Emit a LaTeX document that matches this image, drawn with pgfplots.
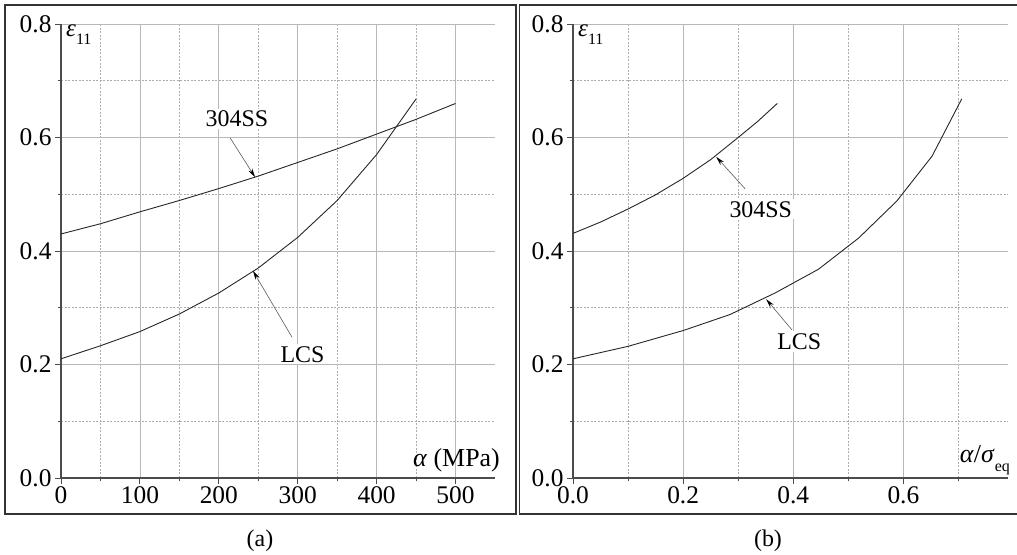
\documentclass[border=0pt]{standalone}
\usepackage{fontspec}
\setmainfont{Liberation Serif}
\usepackage{pgfplots}
\pgfplotsset{compat=1.18}
\usetikzlibrary{arrows.meta}

\pgfplotsset{
  panel/.style={
    scale only axis,
    height=454bp,
    ymin=0, ymax=0.8,
    axis lines*=left,
    axis line style={line width=1.4bp, black!70},
    tick align=outside,
    major tick length=6bp, minor tick length=3.5bp,
    tick style={black!70, line width=0.9bp},
    grid=both,
    major grid style={black!28, line width=0.7bp},
    minor grid style={black!32, line width=0.6bp, dash pattern=on 2bp off 1.5bp},
    ytick={0,0.2,0.4,0.6,0.8},
    minor ytick={0.1,0.3,0.5,0.7},
    yticklabel style={/pgf/number format/fixed, /pgf/number format/fixed zerofill, /pgf/number format/precision=1},
    tick label style={font=\fontsize{25.5}{25.5}\selectfont},
    xticklabel style={yshift=1bp},
    /pgf/number format/assume math mode=true,
    clip=false,
  },
  curve/.style={black!85, line width=0.9bp, no markers},
}
\tikzset{
  lbl/.style={fill=white, inner sep=2bp, font=\fontsize{24}{24}\selectfont},
  ann/.style={black!65, line width=0.6bp, -{Stealth[length=9bp, width=4.5bp, black]}},
}

\begin{document}
\begin{tikzpicture}
\useasboundingbox (0,0) rectangle (1017bp,555bp);

% frames
\draw[black!80, line width=1.6bp] (5bp,41bp) rectangle (516bp,550bp);
\draw[black!80, line width=1.6bp] (1022bp,41bp) -- (519.5bp,41bp) -- (519.5bp,550bp) -- (1022bp,550bp);

% captions
\node[font=\fontsize{24}{24}\selectfont] at (260bp,14bp) {(a)};
\node[font=\fontsize{24}{24}\selectfont] at (768bp,14bp) {(b)};

% ---------------- left panel ----------------
\begin{axis}[panel,
  at={(61bp,77bp)}, anchor=south west,
  width=434bp,
  xmin=0, xmax=550,
  xtick={0,100,200,300,400,500},
  minor xtick={50,150,250,350,450},
]
\addplot[curve] coordinates {
 (0,0.430) (50,0.448) (100,0.469) (150,0.489) (200,0.510) (250,0.532)
 (300,0.556) (350,0.580) (400,0.606) (450,0.632) (500,0.660)
};
\addplot[curve] coordinates {
 (0,0.210) (50,0.233) (100,0.258) (150,0.289) (200,0.326) (250,0.370)
 (300,0.424) (350,0.489) (400,0.570) (450,0.668)
};
\node[lbl] at (axis cs:223,0.633) {304SS};
\node[lbl] at (axis cs:306,0.218) {LCS};
\draw[ann] (axis cs:214.5,0.599) -- (axis cs:246,0.530);
\draw[ann] (axis cs:292.8,0.248) -- (axis cs:243.3,0.365);
\node[anchor=north west, inner sep=0pt, xshift=5bp, yshift=-1bp] at (rel axis cs:0,1)
  {\fontsize{25}{25}\selectfont\textit{ε}\raisebox{-0.3em}{\fontsize{16}{16}\selectfont 11}};
\node[anchor=south east, inner sep=0pt, xshift=5bp, yshift=6bp] at (rel axis cs:1,0)
  {\fontsize{26}{26}\selectfont\textit{α} (MPa)};
\end{axis}

% ---------------- right panel ----------------
\begin{axis}[panel,
  at={(573bp,77bp)}, anchor=south west,
  width=435bp,
  xmin=0, xmax=0.79,
  xtick={0,0.2,0.4,0.6},
  minor xtick={0.1,0.3,0.5,0.7},
  xticklabel style={/pgf/number format/fixed, /pgf/number format/fixed zerofill, /pgf/number format/precision=1},
]
\addplot[curve] coordinates {
 (0,0.431) (0.05,0.451) (0.1,0.474) (0.15,0.499) (0.2,0.528) (0.25,0.561)
 (0.3,0.600) (0.335,0.628) (0.371,0.660)
};
\addplot[curve] coordinates {
 (0,0.210) (0.1,0.232) (0.2006,0.260) (0.285,0.288) (0.367,0.326)
 (0.446,0.368) (0.519,0.423) (0.588,0.488) (0.652,0.567) (0.706,0.668)
};
\node[lbl] at (axis cs:0.341,0.4735) {304SS};
\node[lbl] at (axis cs:0.411,0.2405) {LCS};
\draw[ann] (axis cs:0.3127,0.5094) -- (axis cs:0.26,0.566);
\draw[ann] (axis cs:0.3976,0.261) -- (axis cs:0.3509,0.315);
\node[anchor=north west, inner sep=0pt, xshift=5bp, yshift=-1bp] at (rel axis cs:0,1)
  {\fontsize{25}{25}\selectfont\textit{ε}\raisebox{-0.3em}{\fontsize{16}{16}\selectfont 11}};
\node[anchor=south east, inner sep=0pt, xshift=2bp, yshift=3bp] at (rel axis cs:1,0)
  {\fontsize{26}{26}\selectfont\textit{α}/\textit{σ}\raisebox{-0.35em}{\fontsize{16}{16}\selectfont eq}};
\end{axis}
\end{tikzpicture}
\end{document}
